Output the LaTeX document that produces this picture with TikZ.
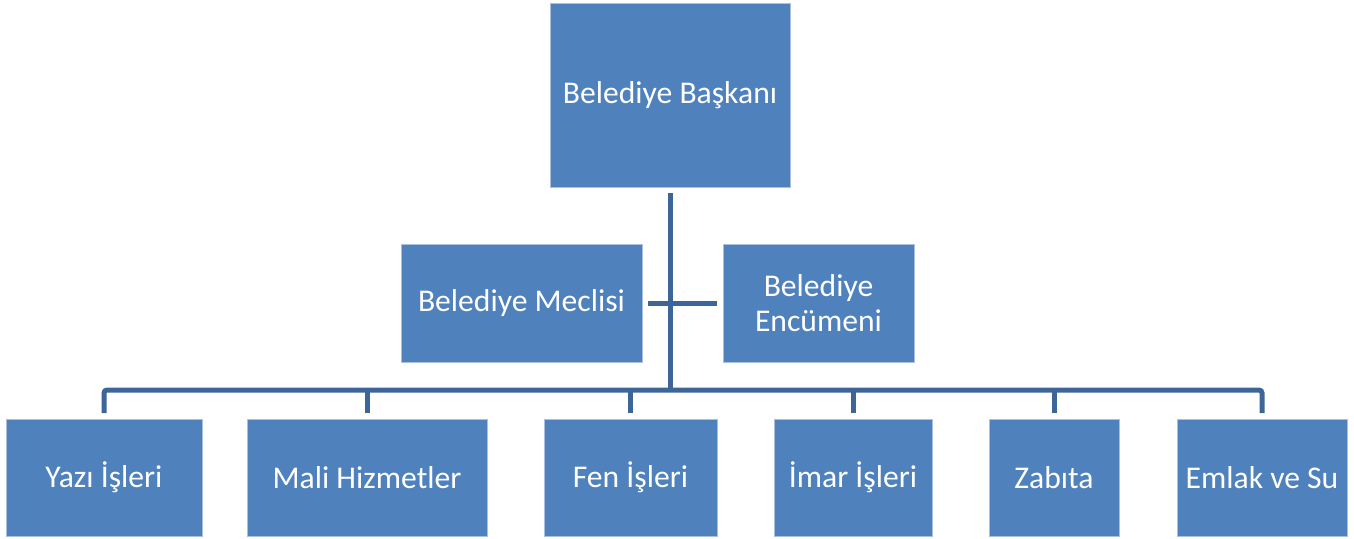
\documentclass[tikz,border=0pt]{standalone}
\usepackage{fontspec}
\setmainfont{Carlito}
\definecolor{boxblue}{HTML}{4F81BD}
\definecolor{edgeblue}{HTML}{A9C1DF}
\definecolor{linkblue}{HTML}{3D6698}
\begin{document}
\begin{tikzpicture}[
    unit/.style={fill=boxblue, draw=edgeblue, line width=0.4pt, text=white,
        inner sep=0pt, outer sep=0.12cm, align=center,
        font=\fontsize{18}{20}\selectfont},
    link/.style={draw=linkblue, line width=0.1cm}
]
                    \useasboundingbox (0,0) rectangle (27.08,-10.76);

                    \node[unit, minimum width=4.8cm, minimum height=3.68cm] (baskan) at (13.4,-1.9) {Belediye Başkanı};
                    \node[unit, minimum width=4.82cm, minimum height=2.36cm] (meclis) at (10.43,-6.06) {Belediye Meclisi};
                    \node[unit, minimum width=3.82cm, minimum height=2.36cm] (encumen) at (16.37,-6.06) {Belediye\\Encümeni};

                    \node[unit, minimum width=3.92cm, minimum height=2.34cm] (yazi) at (2.08,-9.55) {Yazı İşleri};
                    \node[unit, minimum width=4.8cm, minimum height=2.34cm] (mali) at (7.34,-9.55) {Mali Hizmetler};
                    \node[unit, minimum width=3.46cm, minimum height=2.34cm] (fen) at (12.61,-9.55) {Fen İşleri};
                    \node[unit, minimum width=3.16cm, minimum height=2.34cm] (imar) at (17.06,-9.55) {İmar İşleri};
                    \node[unit, minimum width=2.6cm, minimum height=2.34cm] (zabita) at (21.08,-9.55) {Zabıta};
                    \node[unit, minimum width=3.4cm, minimum height=2.34cm] (emlak) at (25.24,-9.55) {Emlak ve Su};

                    \coordinate (bus) at (13.4,-7.8);

                    \draw[link] (baskan.south) -- (baskan.south |- bus);
                    \draw[link] (meclis.east) -- (encumen.west);
                    \draw[link, rounded corners=0.06cm] (yazi.north) |- (bus) -| (emlak.north);
                    \draw[link] (mali.north) -- (mali.north |- bus);
                    \draw[link] (fen.north) -- (fen.north |- bus);
                    \draw[link] (imar.north) -- (imar.north |- bus);
                    \draw[link] (zabita.north) -- (zabita.north |- bus);
\end{tikzpicture}
\end{document}
